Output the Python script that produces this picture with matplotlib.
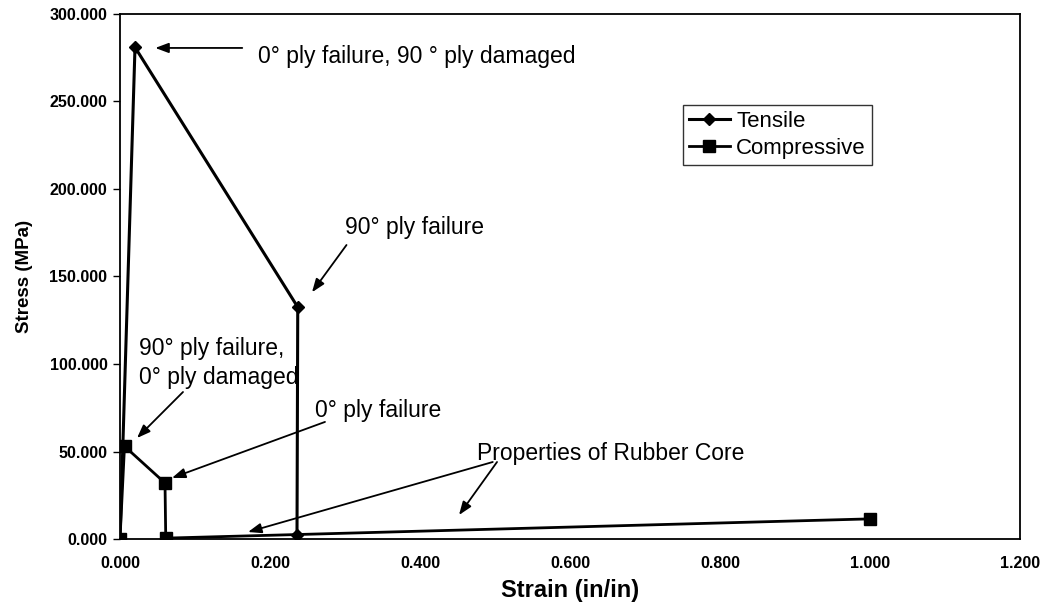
import numpy as np
import matplotlib
matplotlib.use("Agg")
import matplotlib.pyplot as plt
from matplotlib.ticker import FormatStrFormatter

plt.rcParams['font.family'] = ['Liberation Sans', 'DejaVu Sans']

# data
tensile_strain = [0.0, 0.020, 0.237, 0.236]
tensile_stress = [0.0, 281.0, 132.5, 2.5]

comp_strain = [0.0, 0.006, 0.060, 0.061, 1.0]
comp_stress = [0.0, 53.0, 32.0, 0.5, 11.5]

x_ticks = np.arange(0, 1.21, 0.2)
y_ticks = np.arange(0, 301, 50)

fig = plt.figure(figsize=(10.42, 6.09), dpi=100)
ax = fig.add_axes([120/1042, 70/609, 900/1042, 525/609])

ax.plot(tensile_strain, tensile_stress, color='black', lw=2.2, marker='D',
        markersize=6.5, label='Tensile', zorder=3)
ax.plot(comp_strain, comp_stress, color='black', lw=2.0, marker='s',
        markersize=8, label='Compressive', zorder=3)

ax.set_xlim(0, 1.2)
ax.set_ylim(0, 300)
ax.set_xticks(x_ticks)
ax.set_yticks(y_ticks)
ax.xaxis.set_major_formatter(FormatStrFormatter('%.3f'))
ax.yaxis.set_major_formatter(FormatStrFormatter('%.3f'))
ax.tick_params(axis='x', length=0, pad=12, labelsize=11.5)
ax.tick_params(axis='y', length=5, width=1, direction='out', pad=4, labelsize=11.5)
for lab in ax.get_xticklabels() + ax.get_yticklabels():
    lab.set_fontweight('bold')
for s in ax.spines.values():
    s.set_linewidth(1.3)
    s.set_color('black')

ax.set_xlabel('Strain (in/in)', fontsize=17, fontweight='bold', labelpad=6)
ax.set_ylabel('Stress (MPa)', fontsize=13.5, fontweight='bold', labelpad=12)

arrow = dict(arrowstyle='-|>,head_length=0.8,head_width=0.3', color='black', lw=1.3,
             shrinkA=0, shrinkB=0)
fs = 16.5

ax.annotate('', xy=(0.047, 280.6), xytext=(0.163, 280.6), arrowprops=arrow)
ax.text(0.184, 275.5, '0° ply failure, 90 ° ply damaged', fontsize=fs, va='center', zorder=1)

ax.annotate('', xy=(0.256, 141), xytext=(0.302, 168), arrowprops=arrow)
ax.text(0.300, 178, '90° ply failure', fontsize=fs, va='center', zorder=1)

ax.annotate('', xy=(0.0227, 57.7), xytext=(0.084, 84), arrowprops=arrow)
ax.text(0.0253, 100.6, '90° ply failure,\n0° ply damaged', fontsize=fs, va='center',
        linespacing=1.3, zorder=1)

ax.annotate('', xy=(0.0693, 34.9), xytext=(0.2733, 66.9), arrowprops=arrow)
ax.text(0.26, 73.7, '0° ply failure', fontsize=fs, va='center', zorder=1)

ax.annotate('', xy=(0.1707, 4.0), xytext=(0.497, 44), arrowprops=arrow)
ax.annotate('', xy=(0.452, 13.7), xytext=(0.5027, 44), arrowprops=arrow)
ax.text(0.476, 49.1, 'Properties of Rubber Core', fontsize=fs, va='center', zorder=1)

leg = ax.legend(loc='upper left', bbox_to_anchor=(0.6256, 0.8267), borderaxespad=0,
                fontsize=16, frameon=True, fancybox=False, edgecolor='black',
                handlelength=1.85, handletextpad=0.3, borderpad=0.25,
                labelspacing=0.3)
leg.get_frame().set_linewidth(1.0)

fig.savefig('out.png', dpi=100)
